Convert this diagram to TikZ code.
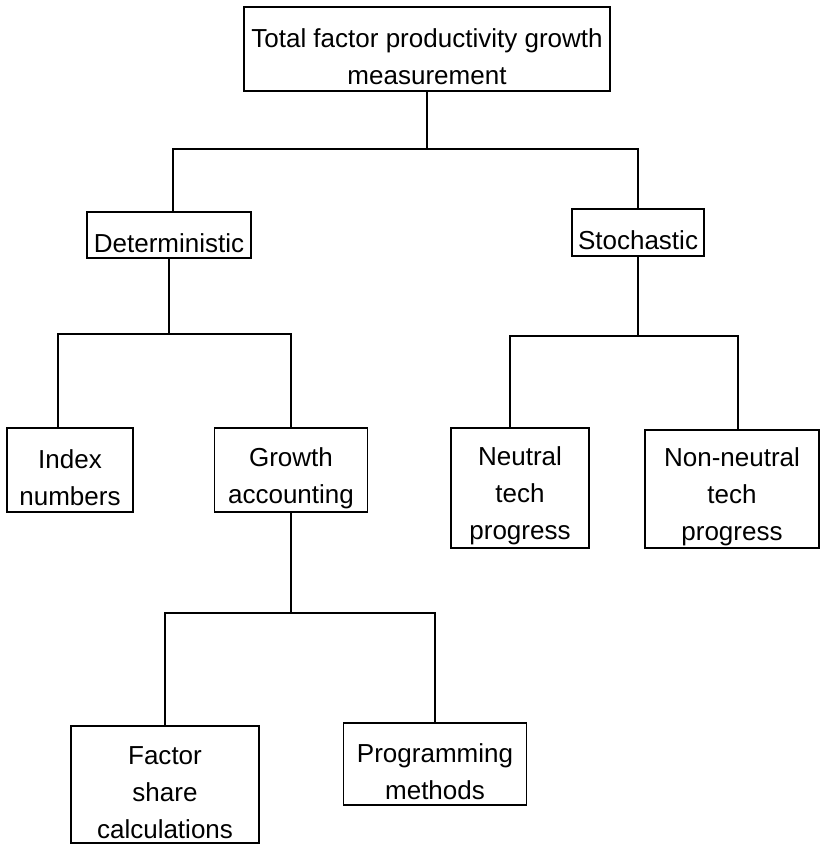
\documentclass[tikz,border=0pt]{standalone}
\usepackage{fontspec}
\setmainfont{Liberation Sans}
\begin{document}
\begin{tikzpicture}[x=0.025cm, y=-0.025cm, line width=1.3pt,
    box/.style={draw, align=center, inner sep=0pt, font=\fontsize{18.5}{26.3}\selectfont,
        execute at begin node={\rule{0pt}{#1}}},
    box/.default=25pt]
\useasboundingbox (0,0) rectangle (821,845);
\node[box=51pt, minimum width=9.15cm, minimum height=2.1cm] (top) at (427,49) {Total factor productivity growth\\measurement};
\node[box, minimum width=4.1cm, minimum height=1.15cm] (det) at (169,235) {Deterministic};
\node[box, minimum width=3.3cm, minimum height=1.175cm] (sto) at (638,232.5) {Stochastic};
\node[box=51pt, minimum width=3.15cm, minimum height=2.1cm] (idx) at (70,470) {Index\\numbers};
\node[box=51pt, minimum width=3.825cm, minimum height=2.1cm] (gro) at (291,470) {Growth\\accounting};
\node[box=77.5pt, minimum width=3.45cm, minimum height=3cm] (neu) at (520,488) {Neutral\\tech\\progress};
\node[box=77.5pt, minimum width=4.35cm, minimum height=2.95cm] (non) at (732,489) {Non-neutral\\tech\\progress};
\node[box=77.5pt, minimum width=4.7cm, minimum height=2.925cm] (fac) at (165,784.5) {Factor\\share\\calculations};
\node[box=51pt, minimum width=4.575cm, minimum height=2.05cm] (pro) at (435,764) {Programming\\methods};
% junctions
\coordinate (j1) at (430,149);
\coordinate (j2) at (173,334);
\coordinate (j3) at (636,336);
\coordinate (j4) at (291,613);
\draw (top.south) -- (top.south |- j1);
\draw ([xshift=0.1cm]det.north) |- (j1) -| (sto.north);
\draw (det.south) -- (det.south |- j2);
\draw ([xshift=-0.3cm]idx.north) |- (j2) -| (gro.north);
\draw (sto.south) -- (sto.south |- j3);
\draw ([xshift=-0.25cm]neu.north) |- (j3) -| ([xshift=0.15cm]non.north);
\draw (gro.south) -- (gro.south |- j4);
\draw (fac.north) |- (j4) -| (pro.north);
\end{tikzpicture}
\end{document}
